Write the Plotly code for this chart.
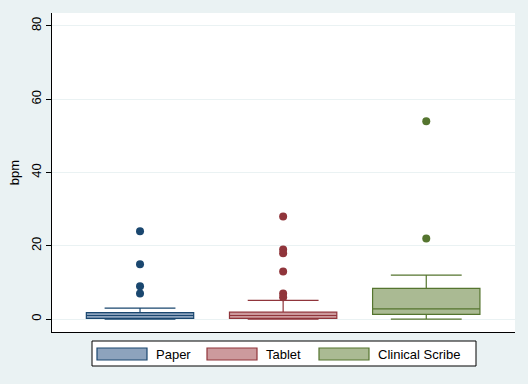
import plotly.graph_objects as go

groups = ["Paper", "Tablet", "Clinical Scribe"]
q1 = [0.2, 0.2, 1.3]
median = [1.0, 1.0, 2.8]
q3 = [1.8, 1.9, 8.4]
lower = [0.0, 0.0, 0.0]
upper = [3.0, 5.1, 12.0]
outliers = [[24, 15, 9, 7], [28, 19, 18, 13, 7, 6], [54, 22]]

line_colors = ["#1A476F", "#90353B", "#55752F"]
fill_colors = ["#8DA3BD", "#CC9A9D", "#AABA93"]

fig = go.Figure()
for i, g in enumerate(groups):
    fig.add_trace(go.Box(
        x=[g], q1=[q1[i]], median=[median[i]], q3=[q3[i]],
        lowerfence=[lower[i]], upperfence=[upper[i]],
        fillcolor=fill_colors[i], line=dict(color=line_colors[i], width=1.2),
        width=0.75, whiskerwidth=0.66, boxpoints=False, showlegend=False,
        hoverinfo="skip"))
    fig.add_trace(go.Scatter(
        x=[g] * len(outliers[i]), y=outliers[i], mode="markers",
        marker=dict(color=line_colors[i], size=8), showlegend=False))

font = "Liberation Sans, Arial, sans-serif"
fig.update_layout(
    width=528, height=384,
    margin=dict(l=52, r=13, t=13, b=52),
    paper_bgcolor="#EAF2F3", plot_bgcolor="white",
    font=dict(family=font, size=13, color="black"),
    xaxis=dict(type="category", range=[-0.615, 2.62], showticklabels=False,
               ticks="", showgrid=False, showline=True, linecolor="black",
               linewidth=1, zeroline=False, fixedrange=True),
    yaxis=dict(range=[-3.5, 83.5], tickvals=[0, 20, 40, 60, 80],
               tickangle=-90, ticks="outside", ticklen=5, tickcolor="black",
               showline=True, linecolor="black", linewidth=1,
               showgrid=True, gridcolor="#EAF2F3", gridwidth=1, zeroline=False,
               title=dict(text="bpm", font=dict(size=13), standoff=6),
               tickfont=dict(size=13)),
)

# custom legend (Stata-style) in pixel-mapped paper coordinates
pl, pr, pt, pb = 52, 515, 13, 332
def px(x):
    return (x - pl) / (pr - pl)
def py(y):
    return (pb - y) / (pb - pt)

fig.add_shape(type="rect", xref="paper", yref="paper",
              x0=px(92), x1=px(476), y0=py(366), y1=py(341),
              line=dict(color="black", width=1), fillcolor="white", layer="above")
rect_x = [97, 207, 319]
for i, g in enumerate(groups):
    fig.add_shape(type="rect", xref="paper", yref="paper",
                  x0=px(rect_x[i]), x1=px(rect_x[i] + 50), y0=py(360), y1=py(348),
                  line=dict(color=line_colors[i], width=1.2),
                  fillcolor=fill_colors[i], layer="above")
    fig.add_annotation(xref="paper", yref="paper", x=px(rect_x[i] + 57), y=py(354),
                       text=g, showarrow=False, xanchor="left", yanchor="middle",
                       font=dict(size=13, family=font))

fig.write_html("out.html", config={"displayModeBar": False},
               post_script="document.body.style.margin='0';document.body.style.overflow='hidden';")
